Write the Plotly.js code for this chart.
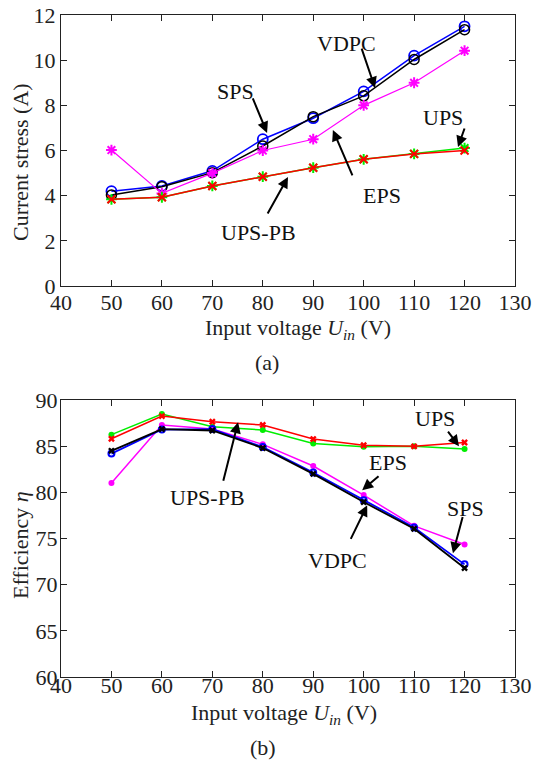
<!DOCTYPE html>
<html><head><meta charset="utf-8">
<script src="https://cdn.plot.ly/plotly-3.0.1.min.js"></script>
<style>html,body{margin:0;padding:0;background:#fff}#chart{width:536px;height:762px}</style>
</head><body><div id="chart"></div>
<script>
const voltage = [50, 60, 70, 80, 90, 100, 110, 120];
// (a) current stress (A)
const stressSPS   = [4.2, 4.43, 5.1, 6.5, 7.43, 8.62, 10.2, 11.5];
const stressVDPC  = [4.03, 4.4, 5.02, 6.2, 7.5, 8.42, 10.03, 11.35];
const stressEPS   = [6.02, 4.1, 5.0, 6.0, 6.5, 8.0, 9.0, 10.42];
const stressUPS   = [3.84, 3.93, 4.43, 4.84, 5.24, 5.61, 5.85, 6.11];
const stressUPSPB = [3.84, 3.93, 4.43, 4.84, 5.24, 5.61, 5.85, 6.0];
// (b) efficiency (%)
const effSPS   = [84.2, 86.8, 86.85, 84.9, 82.15, 79.15, 76.2, 72.2];
const effVDPC  = [84.5, 86.85, 86.7, 84.8, 82.0, 78.95, 76.05, 71.8];
const effEPS   = [81.0, 87.3, 86.85, 85.2, 82.85, 79.7, 76.37, 74.35];
const effUPS   = [86.25, 88.48, 87.1, 86.75, 85.3, 84.95, 85.0, 84.7];
const effUPSPB = [85.8, 88.26, 87.65, 87.3, 85.77, 85.1, 84.98, 85.4];
const xTicks = [40, 50, 60, 70, 80, 90, 100, 110, 120, 130];
const yTicksA = [0, 2, 4, 6, 8, 10, 12];
const yTicksB = [60, 65, 70, 75, 80, 85, 90];

const F = 'Liberation Serif, Times New Roman, serif';
const traces = [
  {x: voltage, y: stressSPS, name: 'SPS', mode: 'lines+markers', line: {color: '#0000ff', width: 1.5}, marker: {symbol: 'circle-open', size: 10, color: '#0000ff', line: {width: 1.8}}, xaxis: 'x', yaxis: 'y'},
  {x: voltage, y: stressVDPC, name: 'VDPC', mode: 'lines+markers', line: {color: '#000000', width: 1.5}, marker: {symbol: 'circle-open', size: 10, color: '#000000', line: {width: 1.5}}, xaxis: 'x', yaxis: 'y'},
  {x: voltage, y: stressEPS, name: 'EPS', mode: 'lines+markers', line: {color: '#ff00ff', width: 1.2}, marker: {symbol: 'asterisk-open', size: 9, color: '#ff00ff', line: {width: 2, color: '#ff00ff'}}, xaxis: 'x', yaxis: 'y'},
  {x: voltage, y: stressUPS, name: 'UPS', mode: 'lines+markers', line: {color: '#00ee00', width: 1.5}, marker: {symbol: 'asterisk-open', size: 9, color: '#00ee00', line: {width: 2, color: '#00ee00'}}, xaxis: 'x', yaxis: 'y'},
  {x: voltage, y: stressUPSPB, name: 'UPS-PB', mode: 'lines+markers', line: {color: '#ff0000', width: 1.5}, marker: {symbol: 'x-thin-open', size: 8, color: '#ff0000', line: {width: 2, color: '#ff0000'}}, xaxis: 'x', yaxis: 'y'},

  {x: voltage, y: effUPS, name: 'UPS', mode: 'lines+markers', line: {color: '#00ee00', width: 1.5}, marker: {symbol: 'circle', size: 6, color: '#00ee00'}, xaxis: 'x2', yaxis: 'y2'},
  {x: voltage, y: effUPSPB, name: 'UPS-PB', mode: 'lines+markers', line: {color: '#ff0000', width: 1.5}, marker: {symbol: 'x', size: 6, color: '#ff0000'}, xaxis: 'x2', yaxis: 'y2'},
  {x: voltage, y: effEPS, name: 'EPS', mode: 'lines+markers', line: {color: '#ff00ff', width: 1.5}, marker: {symbol: 'circle', size: 6, color: '#ff00ff'}, xaxis: 'x2', yaxis: 'y2'},
  {x: voltage, y: effSPS, name: 'SPS', mode: 'lines+markers', line: {color: '#0000ff', width: 1.8}, marker: {symbol: 'circle-open', size: 6, color: '#0000ff', line: {width: 2}}, xaxis: 'x2', yaxis: 'y2'},
  {x: voltage, y: effVDPC, name: 'VDPC', mode: 'lines+markers', line: {color: '#000000', width: 1.8}, marker: {symbol: 'x', size: 6, color: '#000000'}, xaxis: 'x2', yaxis: 'y2'}
];

const axBase = {
  showline: true, linecolor: '#222', linewidth: 1.2, mirror: 'ticks',
  ticks: 'inside', ticklen: 6, tickwidth: 1.2, tickcolor: '#222',
  showgrid: false, zeroline: false,
  tickfont: {family: F, size: 22, color: '#222'}
};

function arrow(xr, yr, hx, hy, tx, ty) {
  return {xref: xr, yref: yr, axref: xr, ayref: yr, x: hx, y: hy, ax: tx, ay: ty, text: '', showarrow: true, arrowhead: 2, arrowsize: 1.1, arrowwidth: 2, arrowcolor: '#000'};
}
function label(xr, yr, x, y, t) {
  return {xref: xr, yref: yr, x: x, y: y, text: t, showarrow: false, font: {family: F, size: 22, color: '#111'}};
}
function paperText(x, y, t, angle) {
  return {xref: 'paper', yref: 'paper', x: x, y: y, xanchor: 'center', yanchor: 'middle', text: t, showarrow: false, textangle: angle || 0, font: {family: F, size: 22, color: '#222'}};
}
const xTitleText = 'Input voltage <i>U</i><sub><i>in</i></sub> (V)';

const layout = {
  width: 536, height: 762,
  margin: {l: 61, r: 21, t: 15, b: 85},
  paper_bgcolor: '#fff', plot_bgcolor: '#fff',
  showlegend: false,
  xaxis: Object.assign({}, axBase, {range: [40, 130], tickvals: xTicks, anchor: 'y', ticklabelstandoff: -4}),
  yaxis: Object.assign({}, axBase, {range: [0, 12], tickvals: yTicksA, domain: [0.5906, 1], anchor: 'x'}),
  xaxis2: Object.assign({}, axBase, {range: [40, 130], tickvals: xTicks, anchor: 'y2', ticklabelstandoff: -12}),
  yaxis2: Object.assign({}, axBase, {range: [60, 90], tickvals: yTicksB, domain: [0, 0.4184], anchor: 'x2', ticklabelstandoff: -2}),
  annotations: [
    label('x', 'y', 96.5, 10.76, 'VDPC'), arrow('x', 'y', 102.25, 8.77, 99.5, 10.58),
    label('x', 'y', 74.5, 8.6, 'SPS'), arrow('x', 'y', 80.85, 6.78, 77.9, 8.37),
    label('x', 'y', 115.7, 7.48, 'UPS'), arrow('x', 'y', 118.7, 6.16, 120.1, 7.04),
    label('x', 'y', 103.6, 4.03, 'EPS'), arrow('x', 'y', 93.9, 6.91, 97.9, 4.83),
    label('x', 'y', 79.1, 2.39, 'UPS-PB'), arrow('x', 'y', 85.0, 4.83, 80.8, 3.14),

    label('x2', 'y2', 114.15, 88.05, 'UPS'), arrow('x2', 'y2', 118.9, 85.0, 116.5, 86.75),
    label('x2', 'y2', 104.8, 83.28, 'EPS'), arrow('x2', 'y2', 99.7, 80.24, 103.25, 81.87),
    label('x2', 'y2', 69.1, 79.48, 'UPS-PB'), arrow('x2', 'y2', 75.1, 87.6, 72.1, 81.1),
    label('x2', 'y2', 94.9, 72.65, 'VDPC'), arrow('x2', 'y2', 100.7, 78.6, 97.3, 74.8),
    label('x2', 'y2', 120.1, 78.3, 'SPS'), arrow('x2', 'y2', 117.7, 73.4, 119.7, 77.5),

    paperText(0.522, 0.5257, xTitleText),
    paperText(0.491, -0.0559, xTitleText),
    paperText(-0.0881, 0.778, 'Current stress (A)', -90),
    paperText(-0.0881, 0.1994, 'Efficiency <i>η</i>', -90),
    paperText(0.454, 0.4758, '(a)'),
    paperText(0.445, -0.107, '(b)')
  ]
};
Plotly.newPlot('chart', traces, layout, {displayModeBar: false, staticPlot: true});
</script></body></html>
